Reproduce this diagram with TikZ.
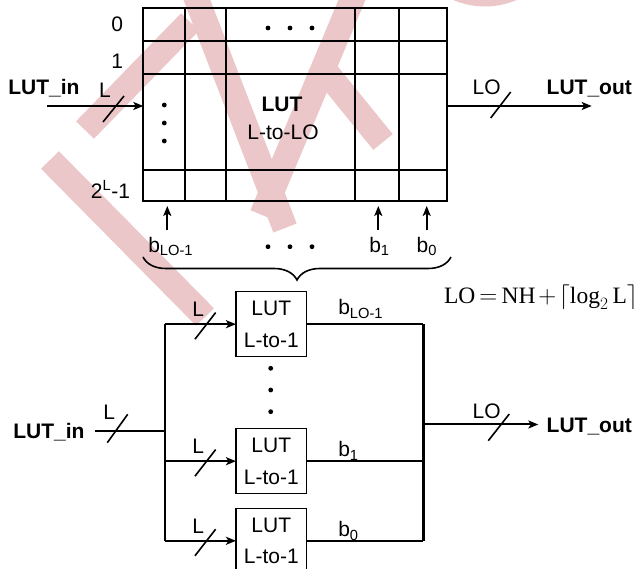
\documentclass[tikz,border=0pt]{standalone}
\usepackage{fontspec}
\setmainfont{Liberation Sans}
\setmathrm{Liberation Serif}
\usetikzlibrary{arrows.meta,decorations.pathreplacing,calc}
\definecolor{wm}{RGB}{236,199,201}
\begin{document}
\begin{tikzpicture}[x=1pt,y=-1pt,
  every node/.style={font=\fontsize{21}{25}\selectfont, inner sep=0pt, outer sep=0pt},
  lbl/.style={anchor=base west},
  grid/.style={line width=2pt},
  conn/.style={line width=2pt},
  bus/.style={line width=2.4pt},
  arr/.style={line width=2pt,-{Stealth[length=10pt,width=8pt,inset=2.5pt]}},
  slash/.style={line width=1.6pt},
  lutbox/.style={draw,line width=1.5pt,minimum width=70.7pt,minimum height=65pt,align=center,font=\fontsize{21}{31.7}\selectfont},
  wmark/.style={wm,line width=25pt}
]
\useasboundingbox (0,0) rectangle (641,569);
% watermark
\begin{scope}
\clip (0,0) rectangle (641,569);
\draw[wmark] (50,160) -- (205,317);
\draw[wmark] (85,130) -- (190,22);
\draw[wmark] (195,-5) -- (285,228);
\draw[wmark] (262,215) -- (354,-5);
\draw[wmark] (318,62) -- (383,142);
\draw[wmark] (430,-30) .. controls (465,2) and (505,2) .. (540,-30);
\end{scope}

% ---------- top table ----------
\node[draw,line width=2pt,anchor=north west,minimum width=303.4pt,minimum height=192.7pt] (tab) at (143.3,8.3) {};
\foreach \xx in {185.3,226,355,399.3} \draw[grid] (\xx,8.3) -- (\xx,201);
\foreach \yy in {40.7,74,170} \draw[grid] (143.3,\yy) -- (446.7,\yy);

\node[anchor=base east] (r0) at (123,31.7) {0};
\node[anchor=base east] (r1) at (123,68.3) {1};
\node[anchor=base east] (rN) at (130,198.3) {2\textsuperscript{L}-1};

\foreach \xx in {268,290,312} \fill (\xx,28) circle (2.4pt);
\foreach \yy in {105,123,141} \fill (164.3,\yy) circle (2.4pt);

\node[anchor=base] (tlut) at (282,112) {\textbf{LUT}};
\node[anchor=base] (tlto) at (283,140) {L-to-LO};

% input / output of table
\node[lbl] (lutin1) at (8.3,94.3) {\textbf{LUT\_in}};
\node[lbl] (L1) at (99,97.3) {L};
\coordinate (in1) at (47,106);
\draw[arr] (in1) -- (in1 -| tab.west);
\draw[slash] (103,122) -- (124,96);

\coordinate (out1) at (591.7,106);
\draw[arr] (out1 -| tab.east) -- (out1);
\draw[slash] (490.7,118) -- (510.7,92);
\node[lbl] (LO1) at (472.7,94.3) {LO};
\node[lbl] (lutout1) at (546.7,94.3) {\textbf{LUT\_out}};

% bit arrows
\foreach \xx/\nm in {167.3/a,378.3/b,426.7/c}{
  \coordinate (s\nm) at (\xx,230);
  \coordinate (t\nm) at (\xx,206);
  \draw[arr] (s\nm) -- (t\nm);
}
\node[lbl] (bLO) at (148.3,252.7) {b\textsubscript{LO-1}};
\node[lbl] (b1t) at (369.3,252.7) {b\textsubscript{1}};
\node[lbl] (b0t) at (416.7,252.7) {b\textsubscript{0}};
\foreach \xx in {268,290,312} \fill (\xx,246.7) circle (2.4pt);

\draw[line width=1.6pt,decorate,decoration={brace,mirror,amplitude=23pt}] (143,257) -- (451,257);

\node[anchor=base east,font=\fontsize{23.5}{28}\selectfont] (formula) at (638,303.3) {\thickmuskip=3mu\medmuskip=2mu$\mathrm{LO}=\mathrm{NH}+\bigl\lceil\log_2\mathrm{L}\bigr\rceil$};

% ---------- bottom ----------
\node[lutbox] (m1) at (271.3,324.2) {LUT\\L-to-1};
\node[lutbox] (m2) at (271.3,461.2) {LUT\\L-to-1};
\node[lutbox] (m3) at (271.3,540.8) {LUT\\L-to-1};

\foreach \yy in {368.3,390,411.7} \fill (270.7,\yy) circle (2.4pt);

\coordinate (lb) at (165,0);
\coordinate (rb) at (423.3,0);

\coordinate (in2) at (95,431);
\draw[bus] (in2) -- (in2 -| lb);
\draw[bus] (m1.west -| lb) -- (m3.west -| lb);
\draw[slash] (107.3,442.7) -- (127.7,414.3);
\node[lbl] (L2) at (103.3,420) {L};
\node[lbl] (lutin2) at (13.3,438.3) {\textbf{LUT\_in}};

\foreach \m in {m1,m2,m3}{
  \draw[arr] (\m.west -| lb) -- (\m.west);
  \draw[slash] ($(\m.west)+(-41,15)$) -- ++(20.7,-26.6);
  \node[lbl] (L\m) at ($(\m.west)+(-43.7,-7.5)$) {L};
  \draw[conn] (\m.east) -- (\m.east -| rb);
}
\draw[bus] (m1.east -| rb) -- (m3.east -| rb);

\node[lbl] (bm1) at (338.3,315) {b\textsubscript{LO-1}};
\node[lbl] (bm2) at (338.3,457) {b\textsubscript{1}};
\node[lbl] (bm3) at (338.3,537) {b\textsubscript{0}};

\coordinate (out2) at (538.3,424.5);
\draw[arr] (out2 -| rb) -- (out2);
\draw[slash] (488.3,440.7) -- (509.3,414);
\node[lbl] (LO2) at (472.7,418.3) {LO};
\node[lbl] (lutout2) at (546.7,432.3) {\textbf{LUT\_out}};
\end{tikzpicture}
\end{document}
